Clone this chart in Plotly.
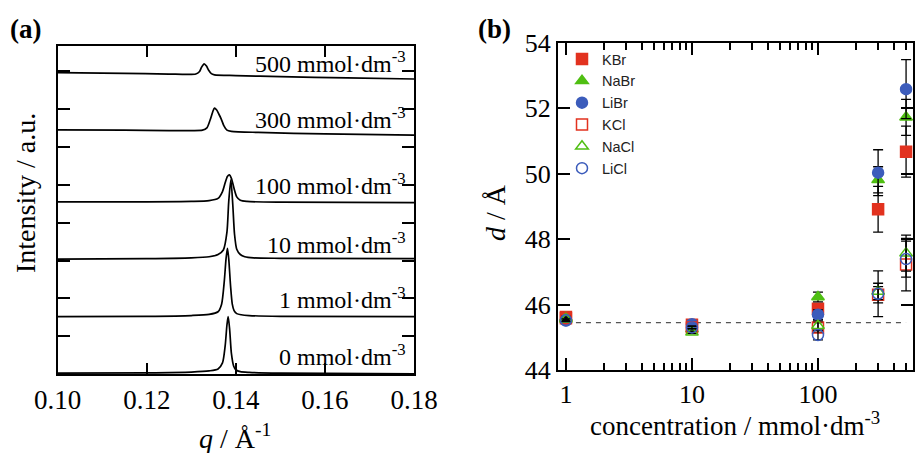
import plotly.graph_objects as go

# ---------------- Panel (a): scattering profiles ----------------
q_0 = [0.100, 0.120, 0.130, 0.134, 0.136, 0.137, 0.1376, 0.1380, 0.13827, 0.1386, 0.1390, 0.1395, 0.1400, 0.1410, 0.1430, 0.150, 0.180]
I_0 = [0.03, 0.04, 0.06, 0.09, 0.14, 0.30, 0.75, 1.30, 1.52, 1.20, 0.55, 0.22, 0.12, 0.07, 0.05, 0.03, 0.01]

q_1 = [0.100, 0.120, 0.130, 0.134, 0.136, 0.1368, 0.1374, 0.1378, 0.13811, 0.1384, 0.1388, 0.1392, 0.1396, 0.1402, 0.1412, 0.1430, 0.150, 0.180]
I_1 = [1.52, 1.53, 1.55, 1.58, 1.65, 1.85, 2.45, 3.05, 3.32, 3.05, 2.35, 1.85, 1.68, 1.60, 1.57, 1.55, 1.53, 1.52]

q_10 = [0.100, 0.120, 0.130, 0.134, 0.136, 0.1372, 0.1380, 0.1384, 0.13888, 0.1393, 0.1397, 0.1402, 0.1410, 0.1420, 0.1440, 0.150, 0.180]
I_10 = [3.04, 3.05, 3.07, 3.10, 3.16, 3.28, 3.75, 4.55, 5.13, 4.50, 3.70, 3.30, 3.16, 3.10, 3.07, 3.06, 3.05]

q_100 = [0.100, 0.120, 0.130, 0.134, 0.1360, 0.1370, 0.1376, 0.1381, 0.13856, 0.1390, 0.1396, 0.1402, 0.1410, 0.1425, 0.150, 0.180]
I_100 = [4.55, 4.55, 4.56, 4.58, 4.64, 4.82, 5.05, 5.22, 5.26, 5.17, 4.90, 4.68, 4.59, 4.56, 4.54, 4.53]

q_300 = [0.100, 0.115, 0.125, 0.130, 0.1325, 0.1335, 0.1342, 0.1348, 0.13519, 0.1357, 0.1362, 0.1367, 0.1373, 0.1380, 0.1390, 0.145, 0.160, 0.180]
I_300 = [6.45, 6.44, 6.43, 6.43, 6.44, 6.50, 6.70, 6.92, 7.02, 6.97, 6.86, 6.74, 6.56, 6.44, 6.41, 6.38, 6.34, 6.31]

q_500 = [0.100, 0.115, 0.125, 0.129, 0.1310, 0.1318, 0.1323, 0.13288, 0.1334, 0.1339, 0.1345, 0.1352, 0.140, 0.150, 0.165, 0.180]
I_500 = [7.96, 7.94, 7.92, 7.91, 7.92, 7.98, 8.10, 8.19, 8.13, 8.02, 7.93, 7.90, 7.88, 7.85, 7.82, 7.79]

curve_labels = ["0", "1", "10", "100", "300", "500"]
label_y = [0.50, 2.00, 3.46, 5.02, 6.76, 8.25]

# ---------------- Panel (b): d-spacing vs concentration ----------------
conc = [1, 10, 100, 300, 500]
salts = ["KBr", "NaBr", "LiBr", "KCl", "NaCl", "LiCl"]
d_KBr = [45.62, 45.38, 45.87, 48.91, 50.67]
e_KBr = [0.04, 0.04, 0.15, 0.70, 0.78]
d_NaBr = [45.60, 45.25, 46.23, 49.81, 51.72]
e_NaBr = [0.04, 0.04, 0.15, 0.40, 0.55]
d_LiBr = [45.51, 45.40, 45.69, 50.03, 52.58]
e_LiBr = [0.04, 0.04, 0.15, 0.70, 0.90]
d_KCl = [45.58, 45.30, 45.30, 46.30, 47.22]
e_KCl = [0.04, 0.04, 0.15, 0.25, 0.80]
d_NaCl = [45.55, 45.15, 45.35, 46.40, 47.57]
e_NaCl = [0.04, 0.04, 0.15, 0.25, 0.55]
d_LiCl = [45.52, 45.30, 45.07, 46.33, 47.39]
e_LiCl = [0.04, 0.04, 0.15, 0.70, 0.55]
ref_conc = [1, 500]
ref_d = [45.45, 45.45]

x_ticks_a = [0.10, 0.12, 0.14, 0.16, 0.18]
x_ticktext_a = ["0.10", "0.12", "0.14", "0.16", "0.18"]
x_ticks_b = [1, 10, 100]
x_minor_b = [2, 3, 4, 5, 6, 7, 8, 9, 20, 30, 40, 50, 60, 70, 80, 90, 200, 300, 400, 500]
y_ticks_b = [44, 46, 48, 50, 52, 54]

RED = "#e2321f"
GREEN = "#4fbf12"
BLUE = "#3c5cbb"
SERIF = "Liberation Serif, Times New Roman, serif"
SANS = "Liberation Sans, Arial, sans-serif"

fig = go.Figure()

for q, I in [(q_0, I_0), (q_1, I_1), (q_10, I_10), (q_100, I_100), (q_300, I_300), (q_500, I_500)]:
    fig.add_trace(go.Scatter(x=q, y=I, mode="lines", xaxis="x", yaxis="y",
                             line=dict(color="black", width=1.7, shape="spline", smoothing=0.7),
                             showlegend=False, hoverinfo="skip"))

fig.add_trace(go.Scatter(x=ref_conc, y=ref_d, mode="lines", xaxis="x2", yaxis="y2",
                         line=dict(color="#555555", width=1.3, dash="5px,5px"),
                         showlegend=False, hoverinfo="skip"))

series = [
    ("KBr", d_KBr, e_KBr, "square", RED),
    ("NaBr", d_NaBr, e_NaBr, "triangle-up", GREEN),
    ("LiBr", d_LiBr, e_LiBr, "circle", BLUE),
    ("KCl", d_KCl, e_KCl, "square-open", RED),
    ("NaCl", d_NaCl, e_NaCl, "triangle-up-open", GREEN),
    ("LiCl", d_LiCl, e_LiCl, "circle-open", BLUE),
]
for name, d, e, sym, col in series:
    fig.add_trace(go.Scatter(
        x=conc, y=d, mode="markers", name=name, xaxis="x2", yaxis="y2",
        marker=dict(symbol=sym, size=11, color=col, line=dict(color=col, width=1.5)),
        error_y=dict(type="data", array=e, visible=True, color="black", thickness=1.3, width=5),
    ))

annotations = []
for lab, yv in zip(curve_labels, label_y):
    annotations.append(dict(x=0.17872, y=yv, xref="x", yref="y", xanchor="right", yanchor="middle",
                            text=lab + " mmol·dm<sup>-3</sup>", showarrow=False,
                            font=dict(family=SERIF, size=24, color="black")))

def paper_text(px, py, text, size, angle=0):
    return dict(x=px / 916, y=1 - py / 453, xref="paper", yref="paper", text=text, textangle=angle,
                xanchor="center", yanchor="middle", showarrow=False,
                font=dict(family=SERIF, size=size, color="black"))

annotations += [
    paper_text(25, 29, "<b>(a)</b>", 27),
    paper_text(494, 29, "<b>(b)</b>", 27),
    paper_text(26, 193, "Intensity / a.u.", 28, -90),
    paper_text(235, 436, "<i>q</i> / Å<sup>-1</sup>", 28),
    paper_text(496, 213, "<i>d</i> / Å", 28, -90),
    paper_text(735, 424, "concentration / mmol·dm<sup>-3</sup>", 27),
]

axis_common = dict(showline=True, linecolor="black", linewidth=2, mirror="ticks", ticks="inside",
                   tickcolor="black", tickwidth=1.5, showgrid=False, zeroline=False, automargin=False)

fig.update_layout(
    width=916, height=453,
    margin=dict(l=0, r=0, t=0, b=0, pad=0),
    paper_bgcolor="white", plot_bgcolor="white",
    xaxis=dict(domain=[57.7 / 916, 414 / 916], anchor="y", range=[0.10, 0.18],
               tickvals=x_ticks_a, ticktext=x_ticktext_a, ticklen=11,
               tickfont=dict(family=SERIF, size=27, color="black"), **axis_common),
    yaxis=dict(domain=[1 - 374.3 / 453, 1 - 46 / 453], anchor="x", range=[0, 8.66],
               tickvals=[0, 1, 2, 3, 4, 5, 6, 7, 8], showticklabels=False, ticklen=12, **axis_common),
    xaxis2=dict(domain=[558 / 916, 913 / 916], anchor="y2", type="log", range=[-0.063, 2.754],
                tickvals=x_ticks_b, ticktext=[str(v) for v in x_ticks_b], ticklen=12,
                minor=dict(tickvals=x_minor_b, ticks="inside", ticklen=7, tickcolor="black", tickwidth=1.5,
                           showgrid=False),
                tickfont=dict(family=SERIF, size=26, color="black"), **axis_common),
    yaxis2=dict(domain=[1 - 370 / 453, 1 - 42.7 / 453], anchor="x2", range=[44, 54],
                tickvals=y_ticks_b, ticklen=12,
                tickfont=dict(family=SERIF, size=26, color="black"), **axis_common),
    legend=dict(x=562 / 916, y=1 - 43 / 453, xanchor="left", yanchor="top", bgcolor="rgba(0,0,0,0)",
                font=dict(family=SANS, size=14.5, color="#222222"), itemwidth=30, tracegroupgap=0),
    annotations=annotations,
)

fig.write_html("out.html", config={"displayModeBar": False},
               post_script="document.body.style.margin='0';document.body.style.overflow='hidden';")
